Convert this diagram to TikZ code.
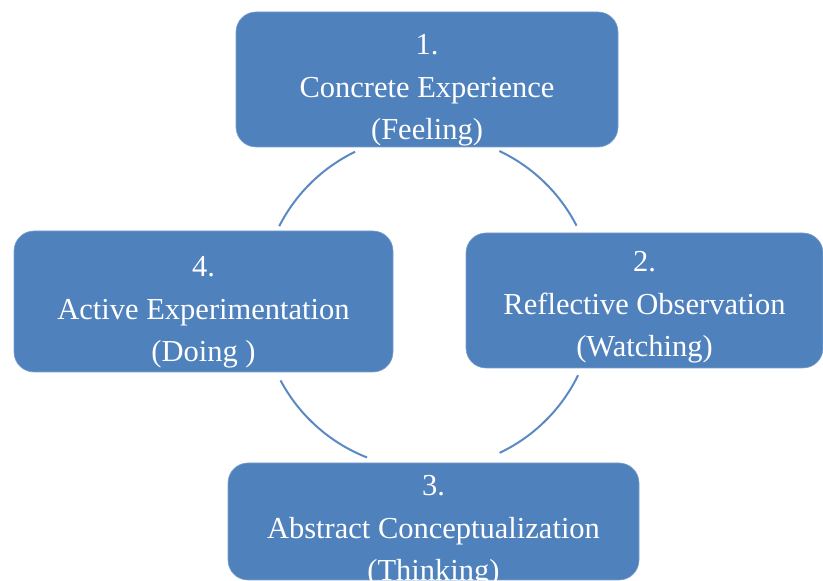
\documentclass[tikz,border=0pt]{standalone}
\usepackage{fontspec}
\setmainfont{Liberation Serif}
\usepackage{tikz}
\definecolor{stageblue}{HTML}{4F81BD}
\definecolor{cycleblue}{HTML}{5A89C3}

\begin{document}
\begin{tikzpicture}[x=1pt,y=1pt,
  stage/.style={rectangle,rounded corners=20pt,fill=stageblue,draw=stageblue!75!white,line width=0.6pt},
  stagetext/.style={text=white,align=center,inner sep=0pt,font=\fontsize{30.5}{42.5}\selectfont},
  cycle/.style={draw=cycleblue,line width=2pt}]
  \useasboundingbox (0,0) rectangle (823,581);
  \coordinate (hub) at (428,279);
  \node[stage,minimum width=382pt,minimum height=135pt] (ce) at (427,501.5) {};
  \node[stage,minimum width=357pt,minimum height=135pt] (ro) at (644.5,280.5) {};
  \node[stage,minimum width=411pt,minimum height=117pt] (ac) at (433.5,59.5) {};
  \node[stage,minimum width=379pt,minimum height=141pt] (ae) at (203.5,279.5) {};
  \node[stagetext] (ce text) at ([yshift=-11]ce.center) {1.\\Concrete Experience\\(Feeling)};
  \node[stagetext] (ro text) at ([yshift=-7]ro.center) {2.\\Reflective Observation\\(Watching)};
  \node[stagetext] (ac text) at ([yshift=-10]ac.center) {3.\\Abstract Conceptualization\\(Thinking)};
  \node[stagetext] (ae text) at ([yshift=-11]ae.center) {4.\\Active Experimentation\\(Doing )};
  \draw[cycle] (hub) ++(64.7:167) arc[start angle=64.7,end angle=27.2,radius=167];
  \draw[cycle] (hub) ++(-26:167) arc[start angle=-26,end angle=-64.6,radius=167];
  \draw[cycle] (hub) ++(248.6:167) arc[start angle=248.6,end angle=208,radius=167];
  \draw[cycle] (hub) ++(153:167) arc[start angle=153,end angle=115.9,radius=167];
\end{tikzpicture}
\end{document}
